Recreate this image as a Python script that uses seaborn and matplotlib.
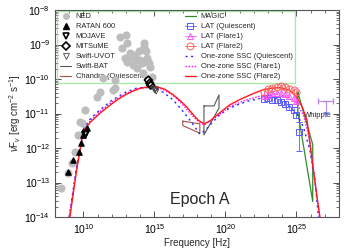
import numpy as np
import pandas as pd
import seaborn as sns
import matplotlib.pyplot as plt
from matplotlib.lines import Line2D
from matplotlib.ticker import FixedLocator, LogLocator, NullFormatter

# data (log10 nu [Hz], log10 nuFnu [erg cm-2 s-1])
ned_nu = [8.45, 8.9, 9.2, 9.4, 9.62, 9.76, 9.9, 10.1, 10.96, 11.17, 11.38, 12.08, 12.22, 12.22,
          12.58, 12.7, 12.9, 13.0, 13.07, 13.1, 13.3, 13.4, 13.5, 13.6, 13.7, 13.8, 13.9, 14.0,
          14.1, 14.2, 14.25, 14.3, 14.4, 14.5, 14.6, 14.7, 14.83]
ned_f = [-13.15, -12.72, -12.43, -12.12, -11.62, -11.25, -11.28, -10.9, -10.52, -10.38, -9.97,
         -10.32, -10.03, -10.26, -8.78, -9.1, -9.4, -8.72, -8.96, -9.5, -9.25, -9.36, -9.6,
         -9.3, -9.45, -9.68, -9.2, -9.45, -9.55, -9.83, -8.95, -9.07, -9.2, -9.4, -9.55,
         -9.65, -9.94]

ratan_nu = [8.92, 9.27, 9.66, 9.83, 9.97, 10.25]
ratan_f = [-12.7, -12.35, -12.12, -11.86, -11.63, -11.42]

mojave_nu = [10.12, 10.18]
mojave_f = [-11.62, -11.58]

mitsume_nu = [14.57, 14.67, 14.74]
mitsume_f = [-10.03, -10.12, -10.18]

uvot_nu = [14.95, 15.02, 15.08, 15.13]
uvot_f = [-10.28, -10.33, -10.3, -10.36]

bat_nu = [18.49, 19.2, 19.55, 19.55, 18.49, 18.49]
bat_f = [-10.78, -10.78, -10.46, -10.84, -11.62, -10.78]

chandra_nu = [17.0, 18.2, 18.2, 17.0, 17.0]
chandra_f = [-11.22, -11.3, -11.57, -11.35, -11.22]

magic_nu = [25.1, 26.15, 26.15, 25.1, 25.1]
magic_f = [-10.38, -11.9, -13.55, -10.95, -10.38]

lat_nu = [22.7, 23.0, 23.3, 23.6, 23.9, 24.2, 24.5, 24.8, 25.0]
latq_f = [-10.57, -10.55, -10.6, -10.62, -10.67, -10.72, -10.8, -10.9, -11.05]
lat1_f = [-10.5, -10.45, -10.42, -10.4, -10.4, -10.43, -10.48, -10.55, -10.65]
lat2_f = [-10.38, -10.3, -10.25, -10.22, -10.2, -10.22, -10.28, -10.33, -10.38]
latq_last_nu = 25.15
latq_last_f = -11.55

whipple_nu = 27.08
whipple_f = -10.64

ssc_q_nu = [9.0, 9.5, 10.0, 10.5, 11.2, 12.0, 13.0, 13.7, 14.3, 15.0, 15.6, 16.3, 16.9, 17.5,
            18.2, 18.6, 19.1, 19.6, 20.3, 21.5, 22.6, 23.5, 24.3, 25.0, 25.5, 25.95, 26.3, 26.55]
ssc_q_f = [-14.0, -12.6, -11.45, -11.15, -10.88, -10.62, -10.38, -10.27, -10.24, -10.27, -10.38,
           -10.6, -10.88, -11.19, -11.6, -11.48, -11.25, -11.04, -10.84, -10.65, -10.55, -10.55,
           -10.7, -10.99, -11.4, -12.06, -12.9, -14.0]

ssc_1_nu = [9.0, 9.5, 10.0, 10.5, 11.2, 12.0, 13.0, 13.7, 14.3, 15.0, 15.6, 16.3, 16.9, 17.5,
            18.0, 18.5, 19.0, 19.6, 20.3, 21.5, 22.6, 23.5, 24.3, 25.0, 25.5, 25.9, 26.2, 26.45, 26.62]
ssc_1_f = [-14.0, -12.65, -11.5, -11.2, -10.93, -10.67, -10.42, -10.3, -10.25, -10.24, -10.3,
           -10.47, -10.7, -10.98, -11.2, -11.33, -11.2, -11.02, -10.8, -10.6, -10.48, -10.43,
           -10.5, -10.7, -11.05, -11.7, -12.6, -13.4, -14.0]

ssc_2_nu = [9.05, 9.5, 10.0, 10.5, 11.2, 12.0, 12.4, 13.0, 13.5, 14.0, 14.7, 15.3, 15.75, 16.3,
            16.8, 17.3, 17.7, 18.1, 18.5, 18.9, 19.3, 19.6, 20.3, 21.0, 21.8, 22.6, 23.2, 23.85,
            24.5, 25.0, 25.4, 25.75, 26.1, 26.45, 26.66]
ssc_2_f = [-14.0, -12.7, -11.5, -11.25, -10.98, -10.72, -10.6, -10.45, -10.35, -10.27, -10.22,
           -10.24, -10.3, -10.45, -10.62, -10.82, -11.02, -11.2, -11.3, -11.22, -11.08, -10.98,
           -10.75, -10.6, -10.45, -10.32, -10.27, -10.25, -10.32, -10.52, -10.8, -11.2, -12.35,
           -13.42, -14.0]


def lin(a):
    return 10 ** np.asarray(a, dtype=float)


sns.set_style("ticks")
plt.rcParams['font.family'] = ['Liberation Sans', 'DejaVu Sans']
plt.rcParams['mathtext.fontset'] = 'custom'
plt.rcParams['mathtext.rm'] = 'Liberation Sans'
plt.rcParams['mathtext.it'] = 'Liberation Sans:italic'

fig, ax = plt.subplots(figsize=(3.6, 2.52), dpi=100)
fig.subplots_adjust(left=55 / 360, right=339 / 360, top=1 - 10 / 252, bottom=1 - 217 / 252)

c_q, c_1, c_2 = '#2a2aff', '#ff00ff', '#ff1a1a'
c_lq, c_l1, c_l2 = '#5a5aff', '#ff55ff', '#ff6060'
c_chandra, c_magic, c_whip = '#a8504a', '#2e8b2e', '#b88ae0'

# NED archive
sns.scatterplot(x=lin(ned_nu), y=lin(ned_f), color='#bdbdbd', s=34, linewidth=0, ax=ax, zorder=2)

# models
for nu, f, col, ls in [(ssc_q_nu, ssc_q_f, c_q, (0, (1.5, 2.5))),
                       (ssc_1_nu, ssc_1_f, c_1, (0, (1, 1.2))),
                       (ssc_2_nu, ssc_2_f, c_2, '-')]:
    d = pd.DataFrame({'nu': lin(nu), 'f': lin(f)})
    sns.lineplot(data=d, x='nu', y='f', sort=False, estimator=None, color=col,
                 linestyle=ls, linewidth=1.0, ax=ax, zorder=4)

# bowties
ax.plot(lin(bat_nu), lin(bat_f), color='#555555', lw=0.8, zorder=3)
ax.plot(lin(chandra_nu), lin(chandra_f), color=c_chandra, lw=0.8, zorder=3)
ax.plot(lin(magic_nu), lin(magic_f), color=c_magic, lw=0.9, zorder=3)

# LAT
for f, col, mk in [(latq_f, c_lq, 's'), (lat1_f, c_l1, '^'), (lat2_f, c_l2, 'o')]:
    y = lin(f)
    ax.errorbar(lin(lat_nu), y, yerr=[y - y / 10 ** 0.07, y * 10 ** 0.07 - y], fmt=mk,
                mfc='none', mec=col, ecolor=col, ms=5, mew=0.7, elinewidth=0.6, zorder=5)
yl = 10 ** latq_last_f
ax.errorbar([10 ** latq_last_nu], [yl], yerr=[[yl - 10 ** -12.1], [10 ** -11.25 - yl]], fmt='s',
            mfc='none', mec=c_lq, ecolor=c_lq, ms=5, mew=0.7, elinewidth=0.6, capsize=2, zorder=5)

# Whipple upper limit
yw = 10 ** whipple_f
ax.errorbar([10 ** whipple_nu], [yw], xerr=[[10 ** whipple_nu - 10 ** 26.52], [10 ** 27.58 - 10 ** whipple_nu]],
            yerr=[[yw - 10 ** -10.95], [0]], uplims=True, fmt='none', ecolor=c_whip, elinewidth=0.8,
            capsize=2, zorder=5)
ax.text(10 ** 25.55, 10 ** -11.07, 'Whipple', fontsize=5.5, va='center', ha='left')

# radio / optical
ax.scatter(lin(ratan_nu), lin(ratan_f), marker='^', color='black', s=14, zorder=6)
ax.scatter(lin(mojave_nu), lin(mojave_f), marker='v', facecolor='none', edgecolor='black', s=22,
           linewidth=1.2, zorder=6)
ax.scatter(lin(mitsume_nu), lin(mitsume_f), marker='D', facecolor='none', edgecolor='black', s=16,
           linewidth=1.2, zorder=6)
ax.scatter(lin(uvot_nu), lin(uvot_f), marker='v', facecolor='none', edgecolor='#444444', s=14,
           linewidth=0.6, zorder=6)

ax.text(0.405, 0.085, 'Epoch A', transform=ax.transAxes, fontsize=11.5, ha='left', va='center')

ax.set_xscale('log')
ax.set_yscale('log')
ax.set_xlim(1e8, 1e28)
ax.set_ylim(1e-14, 1e-8)
ax.xaxis.set_major_locator(FixedLocator([1e10, 1e15, 1e20, 1e25]))
ax.xaxis.set_minor_locator(FixedLocator([10.0 ** k for k in range(8, 29)]))
ax.xaxis.set_minor_formatter(NullFormatter())
ax.yaxis.set_major_locator(LogLocator(base=10, numticks=20))
ax.yaxis.set_minor_locator(LogLocator(base=10, subs=np.arange(2, 10), numticks=20))
ax.yaxis.set_minor_formatter(NullFormatter())
ax.tick_params(which='both', direction='in', top=True, right=True, colors='#333333',
               labelcolor='black', labelsize=7.5)
ax.tick_params(which='major', length=4, width=0.6)
ax.tick_params(which='minor', length=2, width=0.5)
for sp in ax.spines.values():
    sp.set_color('#555555')
    sp.set_linewidth(0.8)

ax.set_xlabel('Frequency [Hz]', fontsize=7, labelpad=2)
ax.set_ylabel(r'$\nu$F$_{\nu}$ [erg cm$^{-2}$ s$^{-1}$]', fontsize=7, labelpad=1)

handles = [
    Line2D([], [], ls='none', marker='o', color='#bdbdbd', ms=5, mew=0),
    Line2D([], [], ls='none', marker='^', color='black', ms=4),
    Line2D([], [], ls='none', marker='v', mfc='none', mec='black', ms=5, mew=1.2),
    Line2D([], [], ls='none', marker='D', mfc='none', mec='black', ms=4, mew=1.2),
    Line2D([], [], ls='none', marker='v', mfc='none', mec='#444444', ms=4, mew=0.6),
    Line2D([], [], color='#555555', lw=0.8),
    Line2D([], [], color=c_chandra, lw=0.8),
    Line2D([], [], color=c_magic, lw=0.9),
    Line2D([], [], color=c_lq, marker='s', mfc='none', ms=5, mew=0.7, lw=0.6),
    Line2D([], [], color=c_l1, marker='^', mfc='none', ms=5, mew=0.7, lw=0.6),
    Line2D([], [], color=c_l2, marker='o', mfc='none', ms=5, mew=0.7, lw=0.6),
    Line2D([], [], color=c_q, ls=(0, (1.5, 2.5)), lw=1.0),
    Line2D([], [], color=c_1, ls=(0, (1, 1.2)), lw=1.0),
    Line2D([], [], color=c_2, lw=1.0),
]
labels = ['NED', 'RATAN 600', 'MOJAVE', 'MITSuME', 'Swift-UVOT', 'Swift-BAT', 'Chandra (Quiescent)',
          'MAGIC', 'LAT (Quiescent)', 'LAT (Flare1)', 'LAT (Flare2)', 'One-zone SSC (Quiescent)',
          'One-zone SSC (Flare1)', 'One-zone SSC (Flare2)']
leg = ax.legend(handles, labels, ncol=2, loc='upper left', bbox_to_anchor=(0.008, 0.997),
                fontsize=5.4, frameon=True, fancybox=False, handlelength=1.5, handletextpad=0.6,
                labelspacing=0.36, columnspacing=5.2, borderpad=0.35, borderaxespad=0)
leg.get_frame().set_edgecolor('#8ee88e')
leg.get_frame().set_facecolor('none')
leg.get_frame().set_linewidth(0.9)
leg.set_zorder(1)

fig.savefig('out.png', dpi=100)
